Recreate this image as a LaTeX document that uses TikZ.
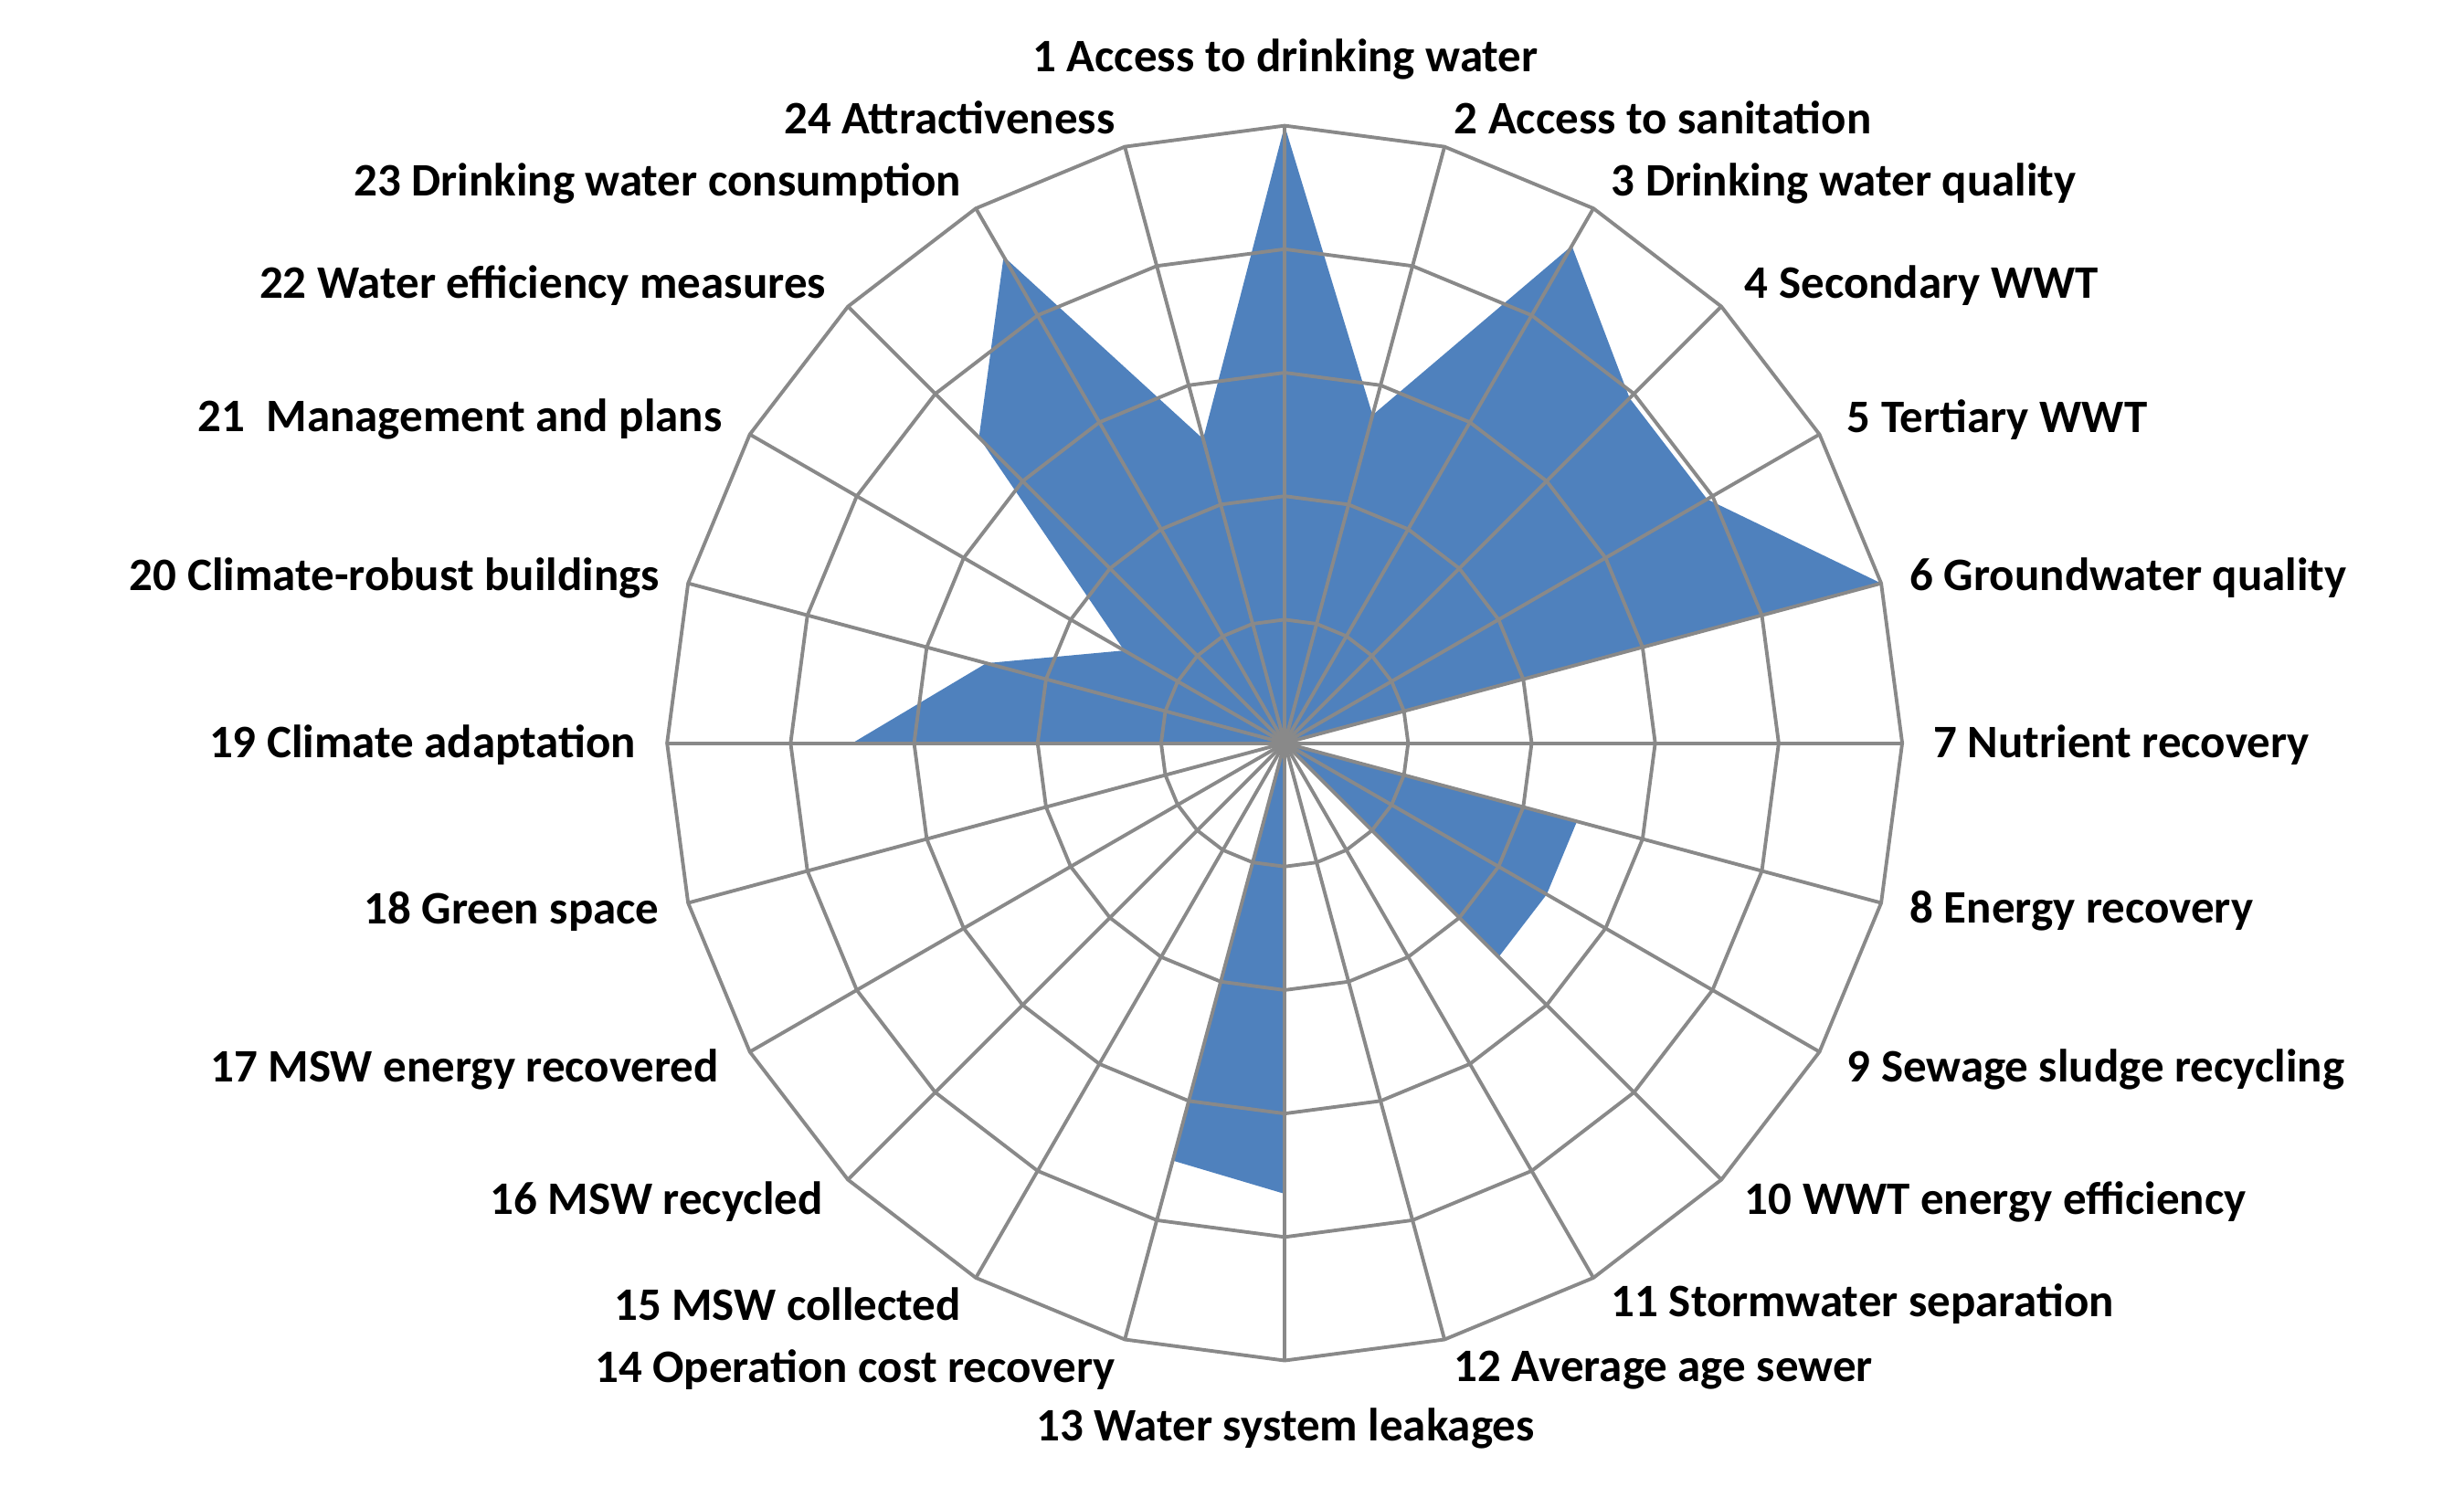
\documentclass[tikz,border=0pt]{standalone}
\usepackage{fontspec}
\setmainfont{Carlito}
\definecolor{radblue}{RGB}{79,129,189}
\definecolor{gridgray}{RGB}{137,137,137}
\begin{document}
\begin{tikzpicture}[x=0.0172cm,y=0.0172cm,
  grid/.style={draw=gridgray,line width=1.1pt},
  lab/.style={font=\fontsize{14.5}{16}\selectfont\bfseries,inner sep=0pt}]
\useasboundingbox[fill=white] (0,0) rectangle (1568,946);
\def\R{393}
\begin{scope}[shift={(817.5,473)}]
\coordinate (c) at (0,0);
\foreach \v [count=\k] in {1,0.55,0.93,0.79,0.79,1,0,0.49,0.49,0.49,0,0,0.73,0.70,0,0,0,0,0.70,0.5,0.3,0.70,0.91,0.51}
  \coordinate (p\k) at ({90-15*(\k-1)}:{\R*\v});
\foreach \k in {1,...,24} \coordinate (o\k) at ({90-15*(\k-1)}:\R);
\fill[radblue] (p1) \foreach \k in {2,...,24} {-- (p\k)} -- cycle;
\foreach \i in {1,...,5}
  \draw[grid] (90:{\R*\i/5}) \foreach \k in {1,...,23} {-- ({90-15*\k}:{\R*\i/5})} -- cycle;
\foreach \k in {1,...,24} \draw[grid] (c) -- (o\k);
\fill[gridgray] (c) circle (7);
\end{scope}
\node[lab] (l1) at (818,908) {1 Access to drinking water};
\node[lab,anchor=west] (l2) at (925,871) {2 Access to sanitation};
\node[lab,anchor=west] (l3) at (1025,829) {3 Drinking water quality};
\node[lab,anchor=west] (l4) at (1110,764) {4 Secondary WWT};
\node[lab,anchor=west] (l5) at (1175,679) {5 Tertiary WWT};
\node[lab,anchor=west] (l6) at (1215,578) {6 Groundwater quality};
\node[lab,anchor=west] (l7) at (1230,472) {7 Nutrient recovery};
\node[lab,anchor=west] (l8) at (1215,366) {8 Energy recovery};
\node[lab,anchor=west] (l9) at (1175,265) {9 Sewage sludge recycling};
\node[lab,anchor=west] (l10) at (1110,181) {10 WWT energy efficiency};
\node[lab,anchor=west] (l11) at (1025,116) {11 Stormwater separation};
\node[lab,anchor=west] (l12) at (925,74) {12 Average age sewer};
\node[lab] (l13) at (818,37) {13 Water system leakages};
\node[lab,anchor=east] (l14) at (710,74) {14 Operation cost recovery};
\node[lab,anchor=east] (l15) at (612,116) {15 MSW collected};
\node[lab,anchor=east] (l16) at (524,181) {16 MSW recycled};
\node[lab,anchor=east] (l17) at (458,265) {17 MSW energy recovered};
\node[lab,anchor=east] (l18) at (420,366) {18 Green space};
\node[lab,anchor=east] (l19) at (405,472) {19 Climate adaptation};
\node[lab,anchor=east] (l20) at (420,578) {20 Climate-robust buildings};
\node[lab,anchor=east] (l21) at (460,679) {21\ \ Management and plans};
\node[lab,anchor=east] (l22) at (526,764) {22 Water efficiency measures};
\node[lab,anchor=east] (l23) at (612,829) {23 Drinking water consumption};
\node[lab,anchor=east] (l24) at (710,871) {24 Attractiveness};
\end{tikzpicture}
\end{document}
